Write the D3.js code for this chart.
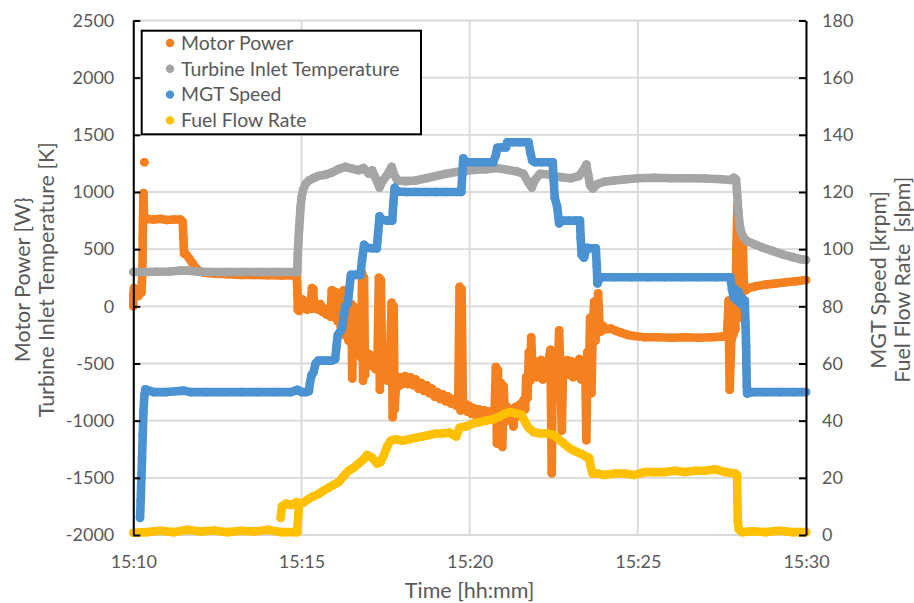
<!DOCTYPE html>
<html>
<head>
<meta charset="utf-8">
<script src="https://cdn.jsdelivr.net/npm/d3@7"></script>
<style>
  html, body { margin: 0; padding: 0; background: #fff; }
  svg text { font-family: Lato, "Open Sans", sans-serif; fill: #595959; }
</style>
</head>
<body>
<svg id="chart" width="914" height="603"></svg>
<script>
// ---- axis ticks -------------------------------------------------------
// time is expressed in minutes after 15:10
const timeTickMinutes = [0, 5, 10, 15, 20];
const timeTickLabels = ["15:10", "15:15", "15:20", "15:25", "15:30"];
const leftTicks = [-2000, -1500, -1000, -500, 0, 500, 1000, 1500, 2000, 2500];
const rightTicks = [0, 20, 40, 60, 80, 100, 120, 140, 160, 180];

// ---- series ------------------------------------------------------------
const seriesNames = ["Motor Power", "Turbine Inlet Temperature", "MGT Speed", "Fuel Flow Rate"];
const seriesColors = ["#F4801F", "#A5A5A5", "#4A92D2", "#FFC000"];

// Motor power [W]  ([minute, value]; null splits the trace)
const motorPower = [
  [0.00, 0], [0.00, 100], [0.02, 160], [0.06, 110], [0.10, 150], [0.15, 90], [0.20, 140], [0.24, 120],
  [0.27, 280], [0.28, 600], [0.30, 990], [0.32, 780], [0.40, 765], [0.60, 760], [0.80, 765], [1.00, 755],
  [1.20, 760], [1.40, 760], [1.47, 740], [1.49, 600], [1.51, 460], [1.58, 450], [1.66, 420], [1.75, 380],
  [1.85, 340], [1.95, 310], [2.10, 295], [2.40, 285], [2.80, 280], [3.20, 275], [3.60, 275], [4.00, 272],
  [4.40, 270], [4.85, 270],
  [4.87, 200], [4.88, 100], [4.89, -30], [4.91, 60], [4.93, -40], [4.96, 40], [5.00, -20], [5.03, 60],
  [5.07, 0], [5.12, 40], [5.17, -30], [5.22, 20], [5.27, -20], [5.31, 160], [5.33, 20], [5.35, 150],
  [5.38, -20], [5.44, 10], [5.50, -30], [5.56, 20], [5.62, -50], [5.68, -20], [5.74, -70], [5.80, -40],
  [5.86, -90], [5.90, 140], [5.93, -60], [5.96, 130], [6.00, -100], [6.04, 120], [6.07, -130], [6.12, -100],
  [6.17, -180], [6.22, -150], [6.25, 140], [6.28, -250], [6.31, 120], [6.34, -230], [6.40, -300], [6.45, -250],
  [6.48, 20], [6.51, -630], [6.54, 0], [6.57, -350], [6.62, -300], [6.67, -420], [6.72, -360], [6.78, -450],
  [6.80, 290], [6.83, -650], [6.86, 250], [6.89, -600], [6.92, -400], [6.97, -480], [7.02, -420], [7.08, -520],
  [7.14, -460], [7.20, -550], [7.26, -480], [7.30, 250], [7.33, -730], [7.36, 230], [7.40, -560], [7.45, -620],
  [7.50, -560], [7.56, -650], [7.62, -590], [7.68, 30], [7.71, -970], [7.74, 0], [7.77, -900], [7.82, -640],
  [7.88, -700], [7.94, -620], [8.00, -680], [8.08, -610], [8.16, -680], [8.24, -620], [8.32, -690], [8.40, -640],
  [8.48, -720], [8.56, -670], [8.64, -740], [8.72, -690], [8.80, -760], [8.88, -720], [8.96, -790], [9.04, -750],
  [9.12, -810], [9.20, -770], [9.28, -830], [9.36, -790], [9.44, -850], [9.52, -810], [9.60, -870], [9.66, -820],
  [9.70, 170], [9.73, -910], [9.76, 150], [9.80, -880], [9.86, -850], [9.92, -920], [9.98, -870], [10.05, -940],
  [10.12, -890], [10.20, -960], [10.28, -900], [10.36, -970], [10.44, -910], [10.52, -980], [10.60, -920],
  [10.68, -990], [10.74, -930], [10.78, -530], [10.81, -1200], [10.84, -560], [10.88, -1000], [10.93, -670],
  [10.97, -1230], [11.01, -700], [11.05, -960], [11.12, -880], [11.18, -1000], [11.24, -900], [11.30, -1050],
  [11.36, -880], [11.42, -960], [11.48, -860], [11.54, -940], [11.60, -820], [11.65, -900], [11.68, -620],
  [11.72, -800], [11.76, -400], [11.80, -650], [11.83, -270], [11.87, -560], [11.92, -480], [11.97, -620],
  [12.02, -500], [12.07, -600], [12.12, -470], [12.17, -640], [12.22, -520], [12.28, -600], [12.34, -480],
  [12.40, -380], [12.44, -1460], [12.47, -560], [12.52, -620], [12.57, -480], [12.62, -560], [12.66, -210],
  [12.70, -620], [12.74, -1085], [12.78, -500], [12.84, -580], [12.90, -470], [12.96, -600], [13.02, -480],
  [13.08, -620], [13.14, -500], [13.20, -600], [13.26, -460], [13.32, -640], [13.38, -520], [13.44, -600],
  [13.47, -1170], [13.50, -400], [13.55, -520], [13.58, -100], [13.62, -760], [13.66, -200], [13.70, 40],
  [13.74, -300], [13.78, -80], [13.82, 115], [13.86, -150], [13.90, -220], [13.96, -170], [14.05, -200],
  [14.20, -195], [14.35, -215], [14.50, -230], [14.70, -250], [14.90, -260], [15.20, -270], [15.60, -270],
  [16.00, -275], [16.40, -270], [16.80, -275], [17.20, -270], [17.50, -265], [17.65, -260], [17.70, 50],
  [17.73, -730], [17.78, -300], [17.83, -250], [17.90, -200], [17.93, 500], [17.96, 880], [17.99, 400],
  [18.02, 100], [18.05, -100], [18.08, 300], [18.12, 600], [18.15, 200], [18.20, 140], [18.30, 160],
  [18.50, 175], [18.80, 190], [19.10, 200], [19.40, 210], [19.70, 220], [20.00, 230],
  null, [0.33, 1260]
];

// Turbine inlet temperature [K]
const turbineInletTemp = [
  [0.00, 300], [0.30, 300], [0.70, 302], [1.10, 305], [1.40, 312], [1.60, 312], [1.90, 305], [2.30, 300],
  [2.80, 300], [3.30, 300], [3.80, 300], [4.30, 300], [4.87, 300], [4.89, 460], [4.91, 575], [4.93, 680],
  [4.95, 760], [4.97, 860], [5.00, 950], [5.05, 1020], [5.12, 1070], [5.22, 1100], [5.35, 1120], [5.50, 1140],
  [5.70, 1150], [5.90, 1170], [6.10, 1200], [6.30, 1220], [6.50, 1205], [6.70, 1190], [6.85, 1210],
  [7.00, 1160], [7.10, 1190], [7.22, 1110], [7.32, 1040], [7.42, 1100], [7.55, 1150], [7.68, 1220],
  [7.76, 1150], [7.85, 1100], [8.10, 1095], [8.40, 1100], [8.70, 1120], [9.00, 1140], [9.30, 1160],
  [9.60, 1175], [9.90, 1185], [10.20, 1195], [10.50, 1200], [10.80, 1210], [11.10, 1195], [11.40, 1180],
  [11.60, 1160], [11.75, 1080], [11.85, 1040], [11.95, 1110], [12.10, 1160], [12.40, 1150], [12.70, 1130],
  [13.00, 1120], [13.25, 1140], [13.40, 1200], [13.47, 1240], [13.52, 1160], [13.58, 1060], [13.66, 1030],
  [13.80, 1070], [14.00, 1090], [14.30, 1100], [14.60, 1110], [15.00, 1120], [15.50, 1125], [16.00, 1120],
  [16.50, 1120], [17.00, 1118], [17.50, 1112], [17.75, 1105], [17.85, 1125], [17.92, 1110], [17.95, 1000],
  [17.97, 910], [17.99, 830], [18.01, 760], [18.04, 690], [18.08, 640], [18.15, 600], [18.25, 570],
  [18.45, 545], [18.70, 515], [19.00, 485], [19.30, 455], [19.60, 430], [19.85, 412], [20.00, 405]
];

// MGT speed [krpm]
const mgtSpeed = [
  [0.20, 6], [0.22, 12], [0.24, 20], [0.26, 27], [0.28, 35], [0.30, 43], [0.33, 49], [0.36, 51],
  [0.60, 50], [1.00, 50], [1.50, 50.5], [1.70, 50], [2.20, 50], [2.70, 50], [3.20, 50], [3.70, 50],
  [4.20, 50], [4.70, 50], [4.88, 50.8], [5.00, 50], [5.15, 50], [5.22, 50.3], [5.25, 53], [5.30, 56],
  [5.36, 57], [5.42, 60], [5.50, 61], [5.70, 61], [5.90, 61], [6.00, 61.5], [6.04, 66], [6.08, 70],
  [6.14, 71], [6.20, 72], [6.25, 76], [6.30, 80], [6.38, 81], [6.42, 86], [6.47, 91], [6.60, 91],
  [6.75, 91], [6.80, 96], [6.86, 101.5], [6.95, 100.5], [7.10, 100.3], [7.24, 100.3], [7.28, 106],
  [7.32, 111.5], [7.40, 110.3], [7.55, 110], [7.70, 110], [7.73, 116], [7.77, 121.5], [7.85, 120.2],
  [8.10, 120], [8.40, 120], [8.70, 120], [9.00, 120], [9.30, 120], [9.60, 120], [9.75, 120], [9.78, 126],
  [9.81, 131.8], [9.90, 130.5], [10.10, 130.4], [10.40, 130.4], [10.70, 130.4], [10.78, 133], [10.82, 135.5],
  [10.95, 135.6], [11.08, 135.6], [11.12, 137.4], [11.30, 137.4], [11.50, 137.4], [11.75, 137.4], [11.80, 134],
  [11.86, 131], [11.95, 130.4], [12.15, 130.4], [12.35, 130.4], [12.47, 130.4], [12.50, 124], [12.53, 118],
  [12.60, 115], [12.66, 109], [12.75, 110], [12.95, 110], [13.15, 110], [13.28, 110], [13.30, 104],
  [13.33, 98], [13.40, 97], [13.48, 100.5], [13.60, 100.3], [13.75, 100.3], [13.78, 94], [13.80, 88],
  [13.88, 90.2], [14.30, 90.2], [14.80, 90.2], [15.30, 90.2], [15.80, 90.2], [16.30, 90.2], [16.80, 90.2],
  [17.30, 90.2], [17.75, 90.2], [17.80, 86], [17.85, 83], [17.90, 86], [17.95, 82], [18.00, 85], [18.05, 81],
  [18.10, 83], [18.15, 80], [18.18, 82], [18.20, 74], [18.22, 66], [18.23, 58], [18.24, 52], [18.25, 49.5],
  [18.40, 50], [18.80, 50], [19.20, 50], [19.60, 50], [20.00, 50]
];

// Fuel flow rate [slpm]
const fuelFlow = [
  [0.00, 0.8], [0.40, 1.0], [0.80, 1.5], [1.20, 1.0], [1.60, 1.8], [2.00, 1.2], [2.40, 1.6], [2.80, 1.0],
  [3.20, 1.5], [3.60, 1.2], [4.00, 1.8], [4.40, 1.0], [4.87, 1.0], [4.89, 4], [4.91, 8], [4.93, 11],
  [5.05, 11.3], [5.20, 12.5], [5.35, 13.5], [5.50, 14.3], [5.65, 15.5], [5.80, 16.5], [5.95, 17.5],
  [6.10, 18.5], [6.25, 20.5], [6.40, 22.5], [6.55, 23.5], [6.70, 25], [6.85, 26.5], [6.95, 28], [7.10, 27],
  [7.25, 25], [7.35, 25.5], [7.45, 28], [7.55, 31], [7.65, 33], [7.80, 33.5], [8.00, 33], [8.20, 33.5],
  [8.40, 34], [8.60, 34.5], [8.80, 35], [9.00, 35.5], [9.20, 35.5], [9.40, 35.8], [9.60, 34.5], [9.70, 37.5],
  [9.90, 38], [10.10, 39], [10.30, 39.5], [10.50, 40], [10.70, 40.5], [10.90, 41.5], [11.05, 42.5],
  [11.20, 43], [11.40, 42.5], [11.55, 42], [11.65, 39.5], [11.75, 37.5], [11.90, 36], [12.10, 35.5],
  [12.30, 35.5], [12.50, 35], [12.65, 33.5], [12.80, 32], [12.95, 30.5], [13.10, 29.5], [13.30, 28.5],
  [13.45, 27.5], [13.55, 27], [13.60, 24], [13.65, 21.5], [13.80, 21.5], [14.00, 21], [14.30, 21.5],
  [14.60, 21.5], [14.90, 21], [15.20, 22], [15.50, 22], [15.80, 22], [16.10, 22.5], [16.40, 22],
  [16.70, 22.5], [17.00, 22.5], [17.30, 23], [17.60, 22], [17.90, 21.5], [17.95, 21], [17.97, 5],
  [18.00, 2], [18.10, 1.0], [18.40, 1.3], [18.80, 1.0], [19.20, 1.5], [19.60, 1.0], [20.00, 1.0],
  null, [4.38, 6], [4.42, 10], [4.55, 11], [4.70, 10.5], [4.85, 11.5]
];

// ---- layout -------------------------------------------------------------
const svg = d3.select("#chart");
const plot = { left: 133.3, right: 806, top: 20.5, bottom: 535 };

const x = d3.scaleLinear().domain([0, 20]).range([plot.left, plot.right]);
const yLeft = d3.scaleLinear().domain([-2000, 2500]).range([plot.bottom, plot.top]);
const yRight = d3.scaleLinear().domain([0, 180]).range([plot.bottom, plot.top]);

// gridlines
const grid = svg.append("g").attr("stroke", "#D9D9D9").attr("stroke-width", 1.8);
grid.selectAll("line.h").data(leftTicks).join("line")
  .attr("x1", plot.left).attr("x2", plot.right)
  .attr("y1", d => yLeft(d)).attr("y2", d => yLeft(d));
grid.selectAll("line.v").data(timeTickMinutes).join("line")
  .attr("y1", plot.top).attr("y2", plot.bottom)
  .attr("x1", d => x(d)).attr("x2", d => x(d));

// series: connected dots, later series drawn on top
const series = [
  { data: motorPower, y: yLeft },
  { data: turbineInletTemp, y: yLeft },
  { data: mgtSpeed, y: yRight },
  { data: fuelFlow, y: yRight }
];
const dotR = 4.3;
series.forEach((s, i) => {
  const g = svg.append("g").attr("class", "series");
  const line = d3.line().defined(d => d !== null).x(d => x(d[0])).y(d => s.y(d[1]));
  g.append("path").attr("d", line(s.data))
    .attr("fill", "none").attr("stroke", seriesColors[i])
    .attr("stroke-width", dotR * 2).attr("stroke-linejoin", "round").attr("stroke-linecap", "round");
  g.selectAll("circle").data(s.data.filter(d => d !== null)).join("circle")
    .attr("cx", d => x(d[0])).attr("cy", d => s.y(d[1])).attr("r", dotR)
    .attr("fill", seriesColors[i]);
});

// axes (plain integer labels with a hyphen minus)
const plain = d => String(d);
const axisLeft = svg.append("g").attr("transform", `translate(${plot.left},0)`)
  .call(d3.axisLeft(yLeft).tickValues(leftTicks).tickFormat(plain)
    .tickSizeInner(-7).tickSizeOuter(0).tickPadding(19));
const axisRight = svg.append("g").attr("transform", `translate(${plot.right},0)`)
  .call(d3.axisRight(yRight).tickValues(rightTicks).tickFormat(plain)
    .tickSizeInner(-7).tickSizeOuter(0).tickPadding(16));
const axisBottom = svg.append("g").attr("transform", `translate(0,${plot.bottom})`)
  .call(d3.axisBottom(x).tickValues(timeTickMinutes).tickFormat((d, i) => timeTickLabels[i])
    .tickSize(0).tickPadding(20));
axisBottom.select(".domain").remove();

[axisLeft, axisRight].forEach(a => {
  a.select(".domain").attr("stroke", "#000").attr("stroke-width", 2);
  a.selectAll(".tick line").attr("stroke", "#000").attr("stroke-width", 2);
});
[axisLeft, axisRight, axisBottom].forEach(a => {
  a.selectAll(".tick text").attr("fill", "#595959")
    .style("font-family", "Lato, 'Open Sans', sans-serif").style("font-size", "18px");
});

// axis titles
const titleSize = "21.5px";
const midY = (plot.top + plot.bottom) / 2 + 2;
function vTitle(cx, label) {
  svg.append("text")
    .attr("transform", `translate(${cx},${midY}) rotate(-90)`)
    .attr("text-anchor", "middle").attr("dominant-baseline", "central")
    .style("font-size", titleSize).style("white-space", "pre")
    .text(label);
}
vTitle(22, "Motor Power [W}");
vTitle(46, "Turbine Inlet Temperature [K]");
vTitle(878, "MGT Speed [krpm]");
vTitle(902, "Fuel Flow Rate  [slpm]");
svg.append("text")
  .attr("x", (plot.left + plot.right) / 2).attr("y", 598)
  .attr("text-anchor", "middle").style("font-size", titleSize)
  .text("Time [hh:mm]");

// legend
const legend = svg.append("g");
legend.append("rect")
  .attr("x", 141.7).attr("y", 30.7).attr("width", 279.3).attr("height", 103.6)
  .attr("fill", "#fff").attr("stroke", "#000").attr("stroke-width", 2);
const rows = legend.selectAll("g.row").data(seriesNames).join("g")
  .attr("transform", (d, i) => `translate(0,${43 + i * 25.8})`);
rows.append("circle").attr("cx", 170).attr("cy", 0).attr("r", 4.2)
  .attr("fill", (d, i) => seriesColors[i]);
rows.append("text").attr("x", 181).attr("y", 0).attr("dy", "0.35em")
  .style("font-size", "19.4px").text(d => d);
</script>
</body>
</html>
